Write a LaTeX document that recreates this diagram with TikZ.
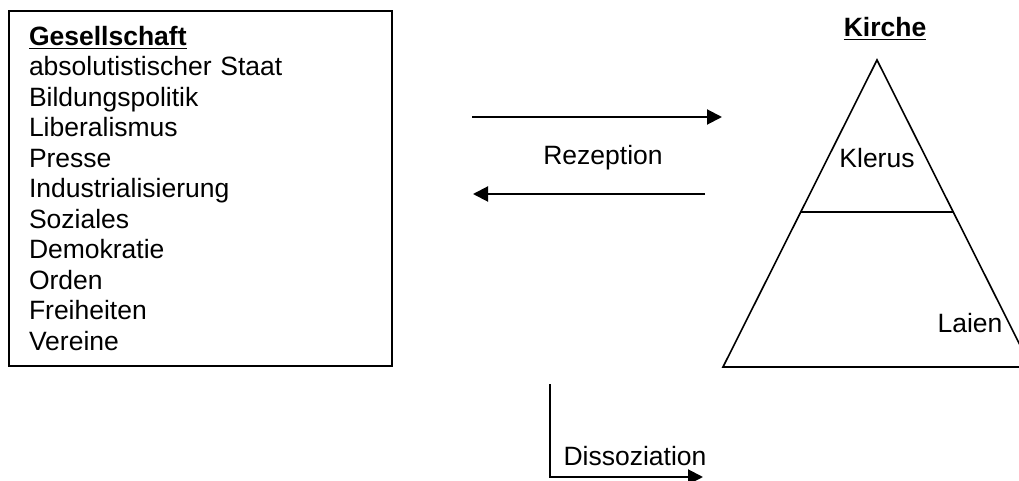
\documentclass[tikz,border=0pt]{standalone}
\usepackage{fontspec}
\setmainfont{Liberation Sans}
\usetikzlibrary{positioning,arrows.meta}

\begin{document}
\begin{tikzpicture}[x=0.5pt,y=-0.5pt,font=\fontsize{13.25pt}{15.25pt}\selectfont]
\tikzstyle{liste}=[rectangle,draw,line width=1.4pt,minimum width=191.5pt,minimum height=177.5pt,inner xsep=10pt,inner ysep=0pt,text width=171.5pt,align=left]
\tikzstyle{pfeil}=[line width=1pt,-{Triangle[length=7.5pt,width=7.5pt]}]
\tikzstyle{linie}=[line width=0.8pt]
\tikzstyle{label}=[inner sep=0pt]

\clip (0,0) rectangle (1019,481);

\node[liste] (gesellschaft) at (200.5,188.5) {\textbf{\underline{Gesellschaft}}\\
absolutistischer Staat\\ Bildungspolitik\\ Liberalismus\\ Presse\\
Industrialisierung\\ Soziales\\ Demokratie\\ Orden\\ Freiheiten\\ Vereine};

% Rezeption
\coordinate (rHin1) at (472,117);
\coordinate (rHin2) at (722,117);
\coordinate (rHer1) at (705,194);
\coordinate (rHer2) at (473,194);
\draw[pfeil] (rHin1) -- (rHin2);
\draw[pfeil] (rHer1) -- (rHer2);
\node[label] (rezeption) at (603,158) {Rezeption};

% Kirche
\coordinate (spitze) at (877,60);
\coordinate (basisL) at (723,367);
\coordinate (basisR) at (1031,367);
\coordinate (mitteL) at (801,212);
\coordinate (mitteR) at (953,212);
\draw[linie] (spitze) -- (basisL) -- (basisR) -- cycle;
\draw[linie] (mitteL) -- (mitteR);
\node[label] (kirche) at (885,29) {\textbf{\underline{Kirche}}};
\node[label] (klerus) at (877,158) {Klerus};
\node[label] (laien) at (970,323) {Laien};

% Dissoziation
\coordinate (dOben) at (550,384);
\coordinate (dEcke) at (550,477);
\coordinate (dEnde) at (703,477);
\draw[pfeil] (dOben) -- (dEcke) -- (dEnde);
\node[label] (dissoziation) at (635,456) {Dissoziation};

\end{tikzpicture}
\end{document}
